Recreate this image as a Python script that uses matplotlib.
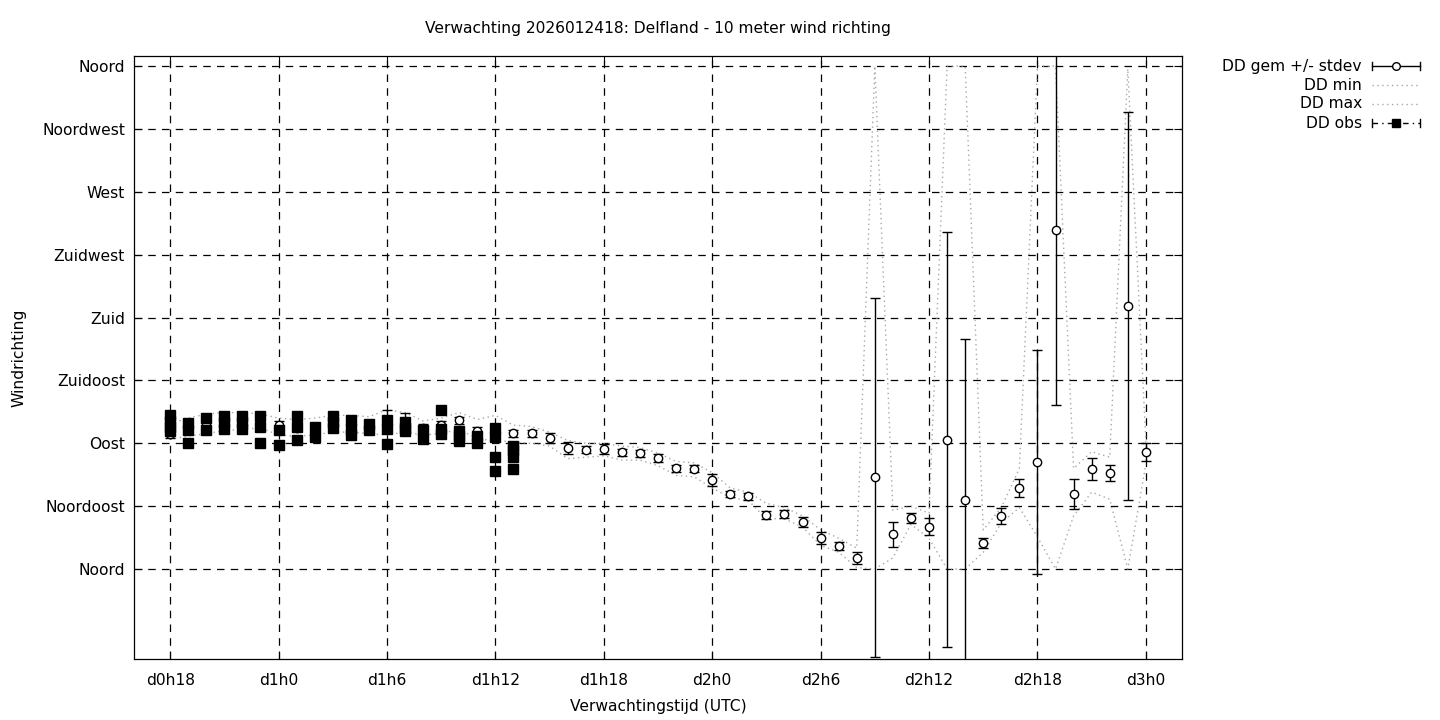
import numpy as np
import matplotlib
matplotlib.use("Agg")
import matplotlib.pyplot as plt
from matplotlib.lines import Line2D

# forecast hours (hours after d0h0)
hours = list(range(18, 73))

dd_mean = [97, 100, 103, 105, 106, 106, 103, 101, 102, 104, 104, 103,
           106, 105, 101, 103, 106.6, 99, 97.3, 97.3, 97.3, 93.8, 86.6, 85.2,
           85.9, 83.7, 83.0, 79.4, 72.3, 71.6, 63.7, 53.7, 52.2, 38.7, 39.4, 33.6,
           22.2, 16.5, 7.9, 65.8, 25.0, 36.5, 30.1, 92.5, 49.4, 18.6, 37.9, 58.0,
           76.6, 242.6, 53.7, 71.6, 68.7, 188.2, 83.7]

dd_std = [3, 2.5, 2.5, 3, 2.5, 2.5, 3, 2.5, 2.5, 3, 2.5, 3,
          8, 6.5, 3, 3, 2.5, 2.5, 2.5, 2.5, 2.5, 3.5, 4, 2.5,
          3.5, 2.5, 2.5, 3, 2.5, 2.5, 4, 2.5, 2.5, 3, 3, 3.5,
          4, 3, 4, 128.5, 9, 3.5, 6.1, 148.5, 115, 3.5, 5.8, 6.5,
          80, 125, 10.4, 7.9, 6, 139, 6.4]

dd_min = [93, 95, 97, 99, 100, 101, 96, 95, 96, 98, 98, 97,
          96, 98, 96, 97, 100, 93, 92, 91, 90, 88, 79, 80,
          81, 78, 78, 74, 67, 66, 58, 51, 49, 36, 36, 30,
          17, 12, 1, 0, 8, 32, 22, 0, 0, 12, 33, 44,
          23, 0, 38, 55, 50, 0, 75]

dd_max = [104, 108, 111, 112, 112, 111, 108, 107, 108, 110, 110, 109,
          114, 112, 106, 108, 112, 107, 110, 103, 102, 98, 92, 90,
          90, 88, 87, 83, 77, 76, 69, 58, 55, 47, 44, 38,
          28, 22, 15, 360, 42, 45, 40, 360, 360, 28, 44, 72,
          360, 360, 72, 84, 80, 358, 91]

# observations (several stations per hour)
obs_hour = [18, 18, 18, 18, 19, 19, 19, 20, 20, 21, 21, 21, 22, 22, 22,
            23, 23, 23, 24, 24, 25, 25, 25, 26, 26, 27, 27, 27, 28, 28, 28,
            29, 29, 30, 30, 30, 31, 31, 31, 32, 32, 33, 33, 33, 34, 34, 34,
            35, 35, 36, 36, 36, 36, 37, 37, 37, 37]
obs_dd = [110, 106, 102, 99, 104.5, 99.5, 90, 108, 99.5, 109.5, 105, 100,
          109.5, 105, 100, 109.5, 101.5, 90, 99.5, 88.5, 109.5, 102, 92,
          102, 94.5, 109.5, 105, 101, 107, 100, 96, 104, 99.5,
          106.5, 100, 89.5, 105, 101, 98.5, 99.5, 93, 114, 100, 96.5,
          98.8, 95, 91.6, 95, 90, 101, 94.5, 80, 70, 88, 85, 80, 71.5]
obs_err = 2.0

xtick_hours = [18, 24, 30, 36, 42, 48, 54, 60, 66, 72]
xtick_labels = ['d0h18', 'd1h0', 'd1h6', 'd1h12', 'd1h18',
                'd2h0', 'd2h6', 'd2h12', 'd2h18', 'd3h0']
ytick_deg = [0, 45, 90, 135, 180, 225, 270, 315, 360]
ytick_labels = ['Noord', 'Noordoost', 'Oost', 'Zuidoost', 'Zuid',
                'Zuidwest', 'West', 'Noordwest', 'Noord']

FS = 11.2
GRAY = '#a8a8a8'


def draw_key(fig, y_px, label, kind):
    """gnuplot style legend entry: text right, sample on the right side."""
    W, H = 1440.0, 720.0
    y = 1 - y_px / H
    x0, x1, xm = 1372 / W, 1420 / W, 1396 / W
    cap = 4 / H
    fig.text(1362 / W, y, label, ha='right', va='center', fontsize=FS)
    if kind == 'gem':
        fig.add_artist(Line2D([x0, x1], [y, y], color='black', lw=1.0))
        for xx in (x0, x1):
            fig.add_artist(Line2D([xx, xx], [y - cap, y + cap], color='black', lw=1.0))
        fig.add_artist(Line2D([xm], [y], marker='o', markersize=5.5,
                              markerfacecolor='white', markeredgecolor='black',
                              markeredgewidth=1.0, linestyle='none'))
    elif kind == 'dot':
        fig.add_artist(Line2D([x0, x1], [y, y], color=GRAY, lw=1.0, linestyle=(0, (1, 2.5))))
    else:
        fig.add_artist(Line2D([x0, x1], [y, y], color='black', lw=1.0,
                              linestyle=(0, (4, 3, 1, 3))))
        for xx in (x0, x1):
            fig.add_artist(Line2D([xx, xx], [y - cap, y + cap], color='black', lw=1.0))
        fig.add_artist(Line2D([xm], [y], marker='s', markersize=5.5,
                              color='black', linestyle='none'))


def main():
    fig = plt.figure(figsize=(14.4, 7.2), dpi=100)
    ax = fig.add_axes([134 / 1440, 61 / 720, 1048 / 1440, 603 / 720])

    # grid
    for h in xtick_hours:
        ax.axvline(h, color='black', lw=0.9, linestyle=(0, (6, 5)), zorder=1)
    for d in ytick_deg:
        ax.axhline(d, color='black', lw=0.9, linestyle=(0, (6, 5)), zorder=1)

    # forecast mean +/- stdev
    ax.errorbar(hours, dd_mean, yerr=dd_std, fmt='o', color='black',
                markerfacecolor='white', markeredgecolor='black', markersize=6,
                markeredgewidth=1.0, elinewidth=1.0, capsize=3.5, capthick=1.0,
                zorder=3)
    ax.plot(hours, dd_min, color=GRAY, lw=1.0, linestyle=(0, (1, 2.5)), zorder=2)
    ax.plot(hours, dd_max, color=GRAY, lw=1.0, linestyle=(0, (1, 2.5)), zorder=2)

    # observations
    ax.errorbar(obs_hour, obs_dd, yerr=obs_err, fmt='s', color='black',
                markersize=6.5, elinewidth=0.8, capsize=3.5, capthick=0.8,
                zorder=4)

    ax.set_xlim(16, 74)
    ax.set_ylim(-64.4, 367.2)
    ax.set_xticks(xtick_hours)
    ax.set_xticklabels(xtick_labels, fontsize=FS)
    ax.set_yticks(ytick_deg)
    ax.set_yticklabels(ytick_labels, fontsize=FS)
    ax.tick_params(direction='in', top=True, right=True, length=6, width=0.8)
    ax.tick_params(axis='x', pad=10)
    ax.tick_params(axis='y', pad=6.5)
    for s in ax.spines.values():
        s.set_linewidth(0.9)

    ax.set_xlabel('Verwachtingstijd (UTC)', fontsize=FS, labelpad=8)
    ax.set_ylabel('Windrichting', fontsize=FS, labelpad=11)
    fig.text(658 / 1440, 1 - 29 / 720, 'Verwachting 2026012418: Delfland - 10 meter wind richting',
             ha='center', va='center', fontsize=FS)

    draw_key(fig, 66, 'DD gem +/- stdev', 'gem')
    draw_key(fig, 85, 'DD min', 'dot')
    draw_key(fig, 104, 'DD max', 'dot')
    draw_key(fig, 123, 'DD obs', 'obs')

    fig.savefig('out.png', dpi=100)


if __name__ == "__main__":
    main()
